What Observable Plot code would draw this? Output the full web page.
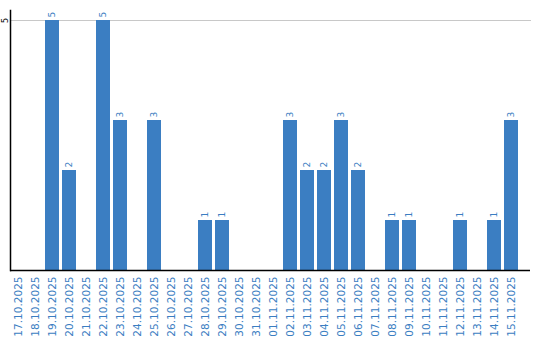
<!DOCTYPE html>
<html><head><meta charset="utf-8">
<script src="https://cdn.jsdelivr.net/npm/d3@7"></script>
<script src="https://cdn.jsdelivr.net/npm/@observablehq/plot@0.6"></script>
<style>body{margin:0;background:#fff}</style>
</head><body><div id="chart"></div>
<script>
const dates = ["17.10.2025","18.10.2025","19.10.2025","20.10.2025","21.10.2025","22.10.2025","23.10.2025","24.10.2025","25.10.2025","26.10.2025","27.10.2025","28.10.2025","29.10.2025","30.10.2025","31.10.2025","01.11.2025","02.11.2025","03.11.2025","04.11.2025","05.11.2025","06.11.2025","07.11.2025","08.11.2025","09.11.2025","10.11.2025","11.11.2025","12.11.2025","13.11.2025","14.11.2025","15.11.2025"];
const counts = [0,0,5,2,0,5,3,0,3,0,0,1,1,0,0,0,3,2,2,3,2,0,1,1,0,0,1,0,1,3];
const yTicks = [5];
const data = dates.map((d,i)=>({date:d, value:counts[i]}));
const blue = "#3b7ec2";
const chart = Plot.plot({
  width: 540, height: 340,
  marginLeft: 10, marginRight: 20, marginTop: 10, marginBottom: 70,
  style: {fontFamily: "DejaVu Sans", background: "#fff"},
  x: {domain: dates, paddingInner: 0.17, paddingOuter: 0.08, label: null},
  y: {domain: [0, 5.2], axis: null},
  marks: [
    Plot.ruleY(yTicks, {stroke: "#c8c8c8", strokeWidth: 1, insetRight: -11}),
    Plot.barY(data, {x: "date", y: "value", fill: blue}),
    Plot.text(data.filter(d=>d.value>0), {x: "date", y: "value", text: d=>String(d.value), rotate: -90, textAnchor: "start", dy: -3, fill: blue, fontSize: 9}),
    Plot.text(yTicks, {y: d=>d, text: d=>String(d), frameAnchor: "left", dx: -5, rotate: -90, textAnchor: "middle", fill: "#000", fontSize: 8}),
    Plot.axisX({tickRotate: -90, tickSize: 0, tickPadding: 6, fill: blue, fontSize: 10.5, label: null}),
    Plot.frame({anchor: "left", stroke: "#000", strokeWidth: 1.5}),
    Plot.ruleY([0], {stroke: "#000", strokeWidth: 1.5, insetRight: -10})
  ]
});
document.getElementById("chart").appendChild(chart);
</script></body></html>
